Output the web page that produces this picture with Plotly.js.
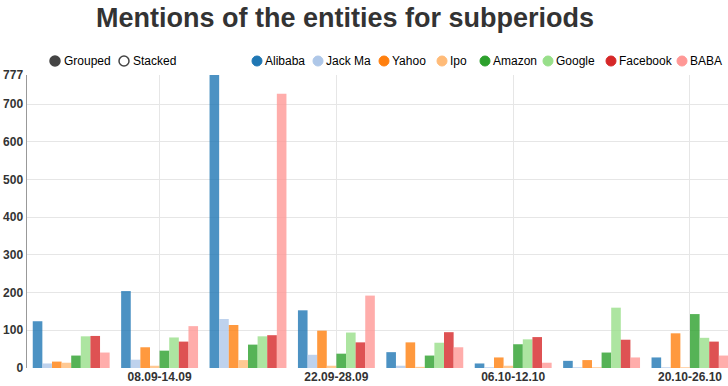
<!DOCTYPE html>
<html>
<head>
<meta charset="utf-8">
<script src="https://cdn.plot.ly/plotly-3.0.1.min.js"></script>
<style>html,body{margin:0;padding:0;background:#fff;}#chart{width:728px;height:386px;}</style>
</head>
<body>
<div id="chart"></div>
<script>
// ---- data ----
const periods = ["01.09-07.09", "08.09-14.09", "15.09-21.09", "22.09-28.09", "29.09-05.10", "06.10-12.10", "13.10-19.10", "20.10-26.10"];
const shownPeriods = ["08.09-14.09", "22.09-28.09", "06.10-12.10", "20.10-26.10"];
const seriesNames = ["Alibaba", "Jack Ma", "Yahoo", "Ipo", "Amazon", "Google", "Facebook", "BABA"];
const alibaba  = [124, 204, 777, 153, 42, 12, 19, 28];
const jackMa   = [12, 22, 130, 35, 6, 2, 2, 2];
const yahoo    = [17, 55, 114, 99, 68, 28, 21, 92];
const ipo      = [14, 6, 21, 6, 3, 6, 2, 2];
const amazon   = [33, 46, 62, 38, 33, 63, 41, 143];
const google   = [84, 81, 84, 94, 67, 76, 160, 80];
const facebook = [85, 70, 87, 68, 95, 82, 75, 70];
const baba     = [41, 111, 727, 192, 55, 14, 28, 33];
const yTicks = [0, 100, 200, 300, 400, 500, 600, 700, 777];

// ---- styling ----
const colors = ["#1f77b4", "#aec7e8", "#ff7f0e", "#ffbb78", "#2ca02c", "#98df8a", "#d62728", "#ff9896"];
const values = [alibaba, jackMa, yahoo, ipo, amazon, google, facebook, baba];

const W = 728, H = 386, ML = 27, MT = 75, MB = 18, MR = 0;
const PW = W - ML - MR, PH = H - MT - MB;
const px2x = p => (p - ML) / PW;
const py2y = p => (H - MB - p) / PH;

const traces = seriesNames.map((name, i) => ({
  type: "bar",
  name: name,
  x: periods,
  y: values[i],
  marker: {color: colors[i], opacity: 0.8, line: {width: 0}},
  showlegend: false,
  hoverinfo: "x+y+name"
}));

// custom legend (circles + text)
const legendCircleX = [55, 124, 257, 318, 384, 442, 485, 548, 611, 682];
const legendTextX   = [62, 131, 263, 324, 390, 448, 491, 554, 617, 688];
const legendLabels = ["Grouped", "Stacked"].concat(seriesNames);
const legendY = 61;
const shapes = [];
const annotations = [];
legendLabels.forEach((lab, i) => {
  let fill, line;
  if (i === 0) { fill = "#444"; line = {color: "#444", width: 1.5}; }
  else if (i === 1) { fill = "#fff"; line = {color: "#444", width: 1.5}; }
  else { fill = colors[i - 2]; line = {color: colors[i - 2], width: 1}; }
  shapes.push({
    type: "circle", xref: "paper", yref: "paper",
    xsizemode: "pixel", ysizemode: "pixel",
    xanchor: px2x(legendCircleX[i]), yanchor: py2y(legendY),
    x0: -5, x1: 5, y0: -5, y1: 5,
    fillcolor: fill, line: line
  });
  annotations.push({
    text: lab, xref: "paper", yref: "paper",
    x: px2x(legendTextX[i]), y: py2y(legendY),
    xanchor: "left", yanchor: "middle", showarrow: false,
    font: {family: "Liberation Sans, Arial, sans-serif", size: 12, color: "#000"}
  });
});

const layout = {
  width: W, height: H,
  margin: {l: ML, r: MR, t: MT, b: MB, pad: 0},
  paper_bgcolor: "#fff", plot_bgcolor: "#fff",
  title: {
    text: "<b>Mentions of the entities for subperiods</b>",
    x: 345 / W, xanchor: "center", xref: "container",
    y: 1 - 18 / H, yanchor: "middle", yref: "container",
    font: {family: "Liberation Sans, Arial, sans-serif", size: 27, color: "#333"}
  },
  barmode: "group",
  bargap: 0.13,
  bargroupgap: 0,
  xaxis: {
    type: "category",
    categoryorder: "array", categoryarray: periods,
    range: [-0.5, 7.43],
    tickvals: shownPeriods, ticktext: shownPeriods,
    showgrid: true, gridcolor: "#e6e6e6", gridwidth: 1,
    showline: false, zeroline: false, ticks: "",
    tickfont: {family: "Liberation Sans, Arial, sans-serif", size: 12, color: "#333", weight: "bold"}
  },
  yaxis: {
    range: [0, 777],
    tickvals: yTicks, ticktext: yTicks.map(String),
    showgrid: true, gridcolor: "#e6e6e6", gridwidth: 1,
    showline: true, linecolor: "#999", linewidth: 1.5,
    zeroline: false, ticks: "",
    tickfont: {family: "Liberation Sans, Arial, sans-serif", size: 12, color: "#333", weight: "bold"}
  },
  shapes: shapes,
  annotations: annotations,
  showlegend: false
};

Plotly.newPlot("chart", traces, layout, {displayModeBar: false, staticPlot: true});
</script>
</body>
</html>
